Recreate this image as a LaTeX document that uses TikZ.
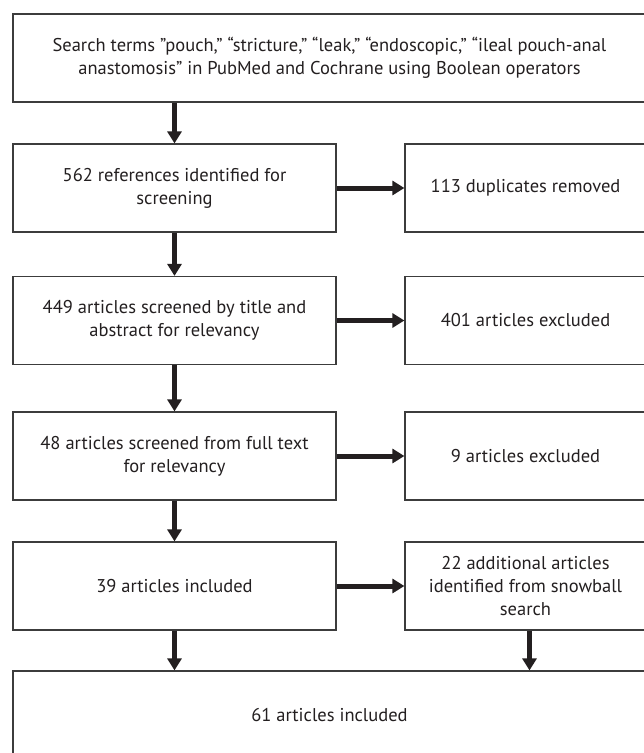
\documentclass[tikz,border=0pt]{standalone}
\usepackage{fontspec}
\setmainfont{PT Sans}
\usepackage{tikz}
\usetikzlibrary{arrows.meta}
\definecolor{inkgray}{HTML}{231F20}
\definecolor{edgegray}{HTML}{3C3C3C}
\tikzset{
    box/.style={draw=edgegray, line width=1.2pt, align=center, text=inkgray,
        font=\fontsize{18.5}{23}\selectfont, minimum height=88pt, inner sep=0pt},
    widebox/.style={box, minimum width=633pt},
    leftbox/.style={box, minimum width=323pt},
    sidebox/.style={box, minimum width=241pt},
    flow/.style={draw=inkgray, line width=5pt, -{Triangle[length=12pt, width=14pt]}}
}

\begin{document}
\begin{tikzpicture}[x=1pt, y=-1pt]
                    \useasboundingbox (0,0) rectangle (644,753);
                    \clip (0,0) rectangle (644,753);

                    \node[widebox] (search) at (329.5,58) {Search terms ”pouch,” “stricture,” “leak,” “endoscopic,” “ileal pouch-anal\\anastomosis” in PubMed and Cochrane using Boolean operators};
                    \node[leftbox] (ident) at (174.5,188) {562 references identified for\\screening};
                    \node[sidebox] (dup) at (525.5,188) {113 duplicates removed};
                    \node[leftbox] (screen) at (174.5,320.5) {449 articles screened by title and\\abstract for relevancy};
                    \node[sidebox] (exclA) at (525.5,320.5) {401 articles excluded};
                    \node[leftbox] (fulltext) at (174.5,456) {48 articles screened from full text\\for relevancy};
                    \node[sidebox] (exclB) at (525.5,456) {9 articles excluded};
                    \node[leftbox] (incl) at (174.5,586) {39 articles included};
                    \node[sidebox] (snow) at (525.5,586) {22 additional articles\\identified from snowball\\search};
                    \node[widebox] (final) at (329.5,715) {61 articles included};

                    \foreach \a/\b in {search/ident, ident/screen, screen/fulltext, fulltext/incl, incl/final} {
                        \draw[flow] (\a.south -| ident) -- (\b.north -| ident);
                    }
                    \foreach \a/\b in {ident/dup, screen/exclA, fulltext/exclB, incl/snow} {
                        \draw[flow] (\a) -- (\b);
                    }
                    \draw[flow] ([xshift=4pt]snow.south) -- ([xshift=4pt]snow.south |- final.north);
\end{tikzpicture}
\end{document}
